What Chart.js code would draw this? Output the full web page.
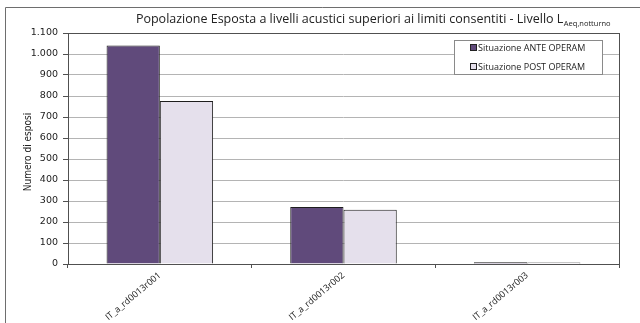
<!DOCTYPE html>
<html>
<head>
<meta charset="utf-8">
<script src="https://cdn.jsdelivr.net/npm/chart.js@4/dist/chart.umd.min.js"></script>
<style>
  body { margin: 0; background: #fff; }
  #wrap { width: 640px; height: 323px; }
</style>
</head>
<body>
<div id="wrap"><canvas id="chart"></canvas></div>
<script>
// categorie e valori
const categorie = ['IT_a_rd0013r001', 'IT_a_rd0013r002', 'IT_a_rd0013r003'];
const anteOperam = [1041, 272, 8];
const postOperam = [776, 258, 7];
const etichetteY = ['0', '100', '200', '300', '400', '500', '600', '700', '800', '900', '1.000', '1.100'];

const titolo = 'Popolazione Esposta a livelli acustici superiori ai limiti consentiti - Livello L';
const pedice = 'Aeq,notturno';

// cornice, titolo, legenda e titolo asse Y disegnati a mano
const decorazioni = {
  id: 'decorazioni',
  beforeDraw(chart) {
    const c = chart.ctx;
    c.save();
    c.fillStyle = '#fff';
    c.fillRect(0, 0, chart.width, chart.height);
    c.strokeStyle = '#6e6e6e';
    c.lineWidth = 1;
    c.beginPath();
    c.moveTo(5.5, chart.height);
    c.lineTo(5.5, 7.5);
    c.lineTo(chart.width, 7.5);
    c.stroke();
    c.restore();
  },
  afterDraw(chart) {
    const c = chart.ctx;
    const a = chart.chartArea;
    c.save();

    // bordo area grafico
    c.strokeStyle = '#505050';
    c.lineWidth = 1;
    c.strokeRect(Math.round(a.left) + 0.5, Math.round(a.top) + 0.5,
      Math.round(a.right - a.left), Math.round(a.bottom - a.top));

    // titolo con pedice
    c.fillStyle = '#222';
    c.textBaseline = 'alphabetic';
    c.font = '12.5px "Open Sans"';
    const w1 = c.measureText(titolo).width;
    c.font = '7.5px "Open Sans"';
    const w2 = c.measureText(pedice).width;
    let x = 373 - (w1 + w2) / 2;
    c.font = '12.5px "Open Sans"';
    c.textAlign = 'left';
    c.fillText(titolo, x, 23);
    c.font = '7.5px "Open Sans"';
    c.fillText(pedice, x + w1 + 0.5, 26);

    // titolo asse Y
    c.save();
    c.translate(28, 152);
    c.rotate(-Math.PI / 2);
    c.font = '10px "Liberation Sans Narrow", "DejaVu Sans Condensed", sans-serif';
    c.textAlign = 'center';
    c.textBaseline = 'middle';
    c.fillStyle = '#222';
    c.fillText('Numero di esposi', 0, 0);
    c.restore();

    // legenda
    c.fillStyle = '#fff';
    c.fillRect(454.5, 40.5, 148, 34);
    c.strokeStyle = '#8a8a8a';
    c.strokeRect(454.5, 40.5, 148, 34);
    c.font = '9px "Open Sans"';
    c.textBaseline = 'middle';
    chart.data.datasets.forEach((ds, i) => {
      const y = 48 + i * 19;
      c.fillStyle = ds.backgroundColor;
      c.fillRect(470.5, y - 3.5, 6, 6);
      c.strokeStyle = '#222';
      c.strokeRect(470.5, y - 3.5, 6, 6);
      c.fillStyle = '#222';
      c.fillText(ds.label, 478, y);
    });
    c.restore();
  }
};

new Chart(document.getElementById('chart'), {
  type: 'bar',
  data: {
    labels: categorie,
    datasets: [
      {
        label: 'Situazione ANTE OPERAM',
        data: anteOperam,
        backgroundColor: '#604a7b',
        borderColor: '#1e1e1e',
        borderWidth: 1,
        categoryPercentage: 0.58,
        barPercentage: 1
      },
      {
        label: 'Situazione POST OPERAM',
        data: postOperam,
        backgroundColor: '#e5e0ec',
        borderColor: '#1e1e1e',
        borderWidth: 1,
        categoryPercentage: 0.58,
        barPercentage: 1
      }
    ]
  },
  options: {
    responsive: true,
    maintainAspectRatio: false,
    animation: false,
    layout: { padding: { top: 33, right: 21, left: 0, bottom: 0 } },
    plugins: {
      legend: { display: false },
      title: { display: false },
      tooltip: { enabled: false }
    },
    scales: {
      x: {
        afterFit(scale) { scale.height = 59; },
        border: { display: false },
        grid: {
          offset: true,
          drawOnChartArea: false,
          drawTicks: true,
          tickLength: 4,
          tickColor: '#505050'
        },
        ticks: {
          minRotation: 40,
          maxRotation: 40,
          padding: 2,
          color: '#222',
          font: { family: 'Open Sans', size: 9 }
        }
      },
      y: {
        min: 0,
        max: 1100,
        afterFit(scale) { scale.width = 68; },
        border: { display: false },
        grid: {
          color: '#b4b4b4',
          tickColor: '#505050',
          tickLength: 5
        },
        ticks: {
          stepSize: 100,
          padding: 5,
          color: '#222',
          font: { family: 'DejaVu Sans', size: 9.5 },
          callback: (v, i) => etichetteY[i]
        }
      }
    }
  },
  plugins: [decorazioni]
});
</script>
</body>
</html>
